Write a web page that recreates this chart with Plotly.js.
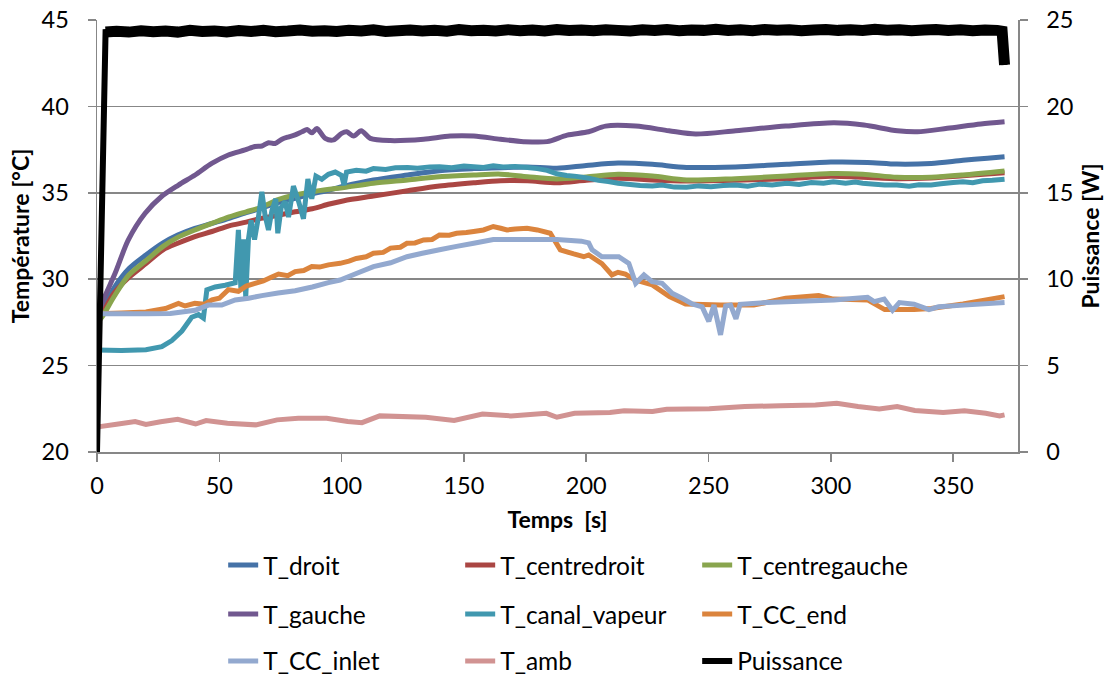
<!DOCTYPE html>
<html>
<head>
<meta charset="utf-8">
<script src="https://cdn.plot.ly/plotly-3.0.1.min.js"></script>
<style>html,body{margin:0;padding:0;background:#fff;}#chart{width:1112px;height:680px;}</style>
</head>
<body>
<div id="chart"></div>
<script>
// ---- data (time in s, temperatures in °C, power in W) ----
const droit_t = [0, 2, 7, 13, 20, 27, 33, 40, 47, 54, 61, 67, 74, 81, 88, 95, 101, 113, 127, 140, 154, 168, 176, 188, 200, 213, 227, 241, 261, 282, 300, 315, 327, 341, 354, 364, 371];
const droit_v = [27.7, 28.2, 29.5, 30.6, 31.4, 32.1, 32.55, 32.94, 33.23, 33.52, 33.85, 34.1, 34.43, 34.68, 34.93, 35.16, 35.38, 35.74, 36.03, 36.28, 36.4, 36.47, 36.5, 36.42, 36.58, 36.72, 36.65, 36.47, 36.5, 36.65, 36.78, 36.76, 36.66, 36.7, 36.88, 37.0, 37.08];

const cdroit_t = [0, 2, 7, 13, 20, 27, 33, 40, 47, 54, 61, 67, 74, 81, 88, 95, 101, 113, 127, 140, 154, 165, 176, 188, 200, 213, 227, 241, 261, 282, 300, 327, 341, 354, 371];
const cdroit_v = [27.6, 28.0, 29.2, 30.1, 30.9, 31.7, 32.08, 32.47, 32.76, 33.09, 33.3, 33.52, 33.7, 33.9, 34.08, 34.35, 34.54, 34.81, 35.12, 35.39, 35.58, 35.7, 35.7, 35.58, 35.72, 35.84, 35.74, 35.68, 35.72, 35.82, 35.96, 35.82, 35.86, 35.98, 36.16];

const cgauche_t = [0, 2, 7, 13, 20, 27, 33, 40, 47, 54, 61, 67, 74, 81, 88, 95, 101, 113, 127, 140, 154, 165, 176, 188, 200, 213, 227, 241, 261, 282, 300, 313, 327, 341, 354, 371];
const cgauche_v = [27.5, 27.8, 29.0, 30.24, 31.07, 31.9, 32.42, 32.85, 33.23, 33.6, 33.9, 34.15, 34.6, 34.87, 35.06, 35.2, 35.3, 35.55, 35.74, 35.93, 36.03, 36.08, 35.93, 35.8, 35.92, 36.07, 35.97, 35.74, 35.82, 35.97, 36.12, 36.08, 35.9, 35.9, 36.03, 36.26];

const gauche_t = [0, 2, 7.4, 12.8, 19.6, 26.5, 33.3, 40.1, 46.9, 53.7, 60.5, 64.6, 67.4, 70.1, 72.8, 75.6, 78.4, 81, 83.8, 85.9, 87.8, 89.9, 93.3, 96.7, 100, 102.1, 104.9, 108, 111.7, 119.9, 133.5, 144.4, 154, 164.9, 174.4, 184, 192.2, 201, 207.9, 220.2, 233.8, 244.7, 261.1, 281.5, 301.3, 313.5, 327.2, 335.4, 347.6, 361.3, 371];
const gauche_v = [27.7, 28.6, 30.34, 32.27, 33.8, 34.8, 35.45, 36.03, 36.7, 37.19, 37.48, 37.68, 37.71, 37.9, 37.85, 38.1, 38.24, 38.35, 38.53, 38.66, 38.47, 38.72, 38.15, 38.06, 38.44, 38.53, 38.28, 38.59, 38.15, 38.02, 38.1, 38.28, 38.28, 38.1, 37.96, 37.96, 38.34, 38.53, 38.86, 38.86, 38.59, 38.4, 38.59, 38.86, 39.05, 38.92, 38.59, 38.53, 38.73, 38.98, 39.11];

const canal_t = [0, 10, 20, 26.5, 30.6, 34.7, 38.7, 41.5, 43.5, 44.9, 48.3, 52.4, 56.5, 57.8, 58.8, 59.9, 60.8, 61.9, 63, 64.4, 66, 67.4, 68.7, 70.1, 71.5, 73.1, 73.9, 75.3, 76.9, 78.3, 80.3, 82.4, 84.4, 86.2, 87.8, 89.5, 91.9, 94.6, 97.4, 100, 101, 102, 106, 110, 113, 118, 122, 127, 131, 136, 140, 145, 150, 154, 158, 162, 166, 171, 176, 180, 184, 188, 192, 196, 201, 205, 209, 213, 217, 222, 227, 231, 236, 241, 246, 251, 256, 261, 266, 271, 276, 282, 287, 292, 297, 301, 306, 310, 313, 318, 322, 327, 332, 336, 341, 345, 350, 354, 358, 362, 366, 371];
const canal_v = [25.9, 25.88, 25.92, 26.1, 26.45, 27.0, 27.8, 27.95, 27.75, 29.38, 29.55, 29.65, 29.8, 32.85, 29.5, 32.3, 28.97, 32.3, 33.4, 32.3, 33.6, 35.06, 33.7, 32.85, 33.97, 34.65, 32.66, 34.16, 34.5, 33.6, 35.39, 34.5, 33.5, 35.8, 34.65, 35.97, 35.78, 36.07, 36.2, 36.0, 35.45, 36.2, 36.3, 36.25, 36.4, 36.35, 36.45, 36.47, 36.42, 36.5, 36.51, 36.45, 36.55, 36.51, 36.47, 36.57, 36.5, 36.52, 36.47, 36.4, 36.3, 36.1, 36.0, 35.95, 35.84, 35.72, 35.65, 35.55, 35.5, 35.42, 35.39, 35.45, 35.33, 35.32, 35.4, 35.35, 35.42, 35.45, 35.38, 35.5, 35.45, 35.55, 35.48, 35.6, 35.55, 35.64, 35.56, 35.62, 35.55, 35.5, 35.45, 35.45, 35.38, 35.46, 35.45, 35.52, 35.6, 35.64, 35.58, 35.7, 35.72, 35.78];

const ccend_t = [0, 10, 20, 24, 28, 33.3, 36, 40, 44, 47, 50, 53.7, 57.8, 61, 64.6, 68, 71, 74.2, 78, 81, 84.5, 87.8, 91, 94.6, 99.4, 103, 106, 110, 113, 117, 120, 124, 126.7, 130, 133.5, 137, 140, 144, 147, 151, 154, 158, 162, 165, 167.6, 171, 175.8, 180, 185.3, 189.4, 194.9, 199, 201, 206.4, 210.5, 213, 216, 220, 227, 234, 240.6, 255, 268.5, 281.5, 295, 301, 315, 322, 334, 341, 354, 371];
const ccend_v = [28.0, 28.05, 28.1, 28.2, 28.3, 28.6, 28.45, 28.6, 28.55, 28.8, 28.9, 29.4, 29.3, 29.6, 29.76, 29.9, 30.1, 30.3, 30.2, 30.44, 30.5, 30.73, 30.7, 30.83, 30.92, 31.05, 31.2, 31.3, 31.5, 31.55, 31.8, 31.85, 32.08, 32.1, 32.27, 32.3, 32.56, 32.55, 32.66, 32.7, 32.76, 32.85, 33.05, 32.95, 32.85, 32.9, 32.95, 32.85, 32.66, 31.7, 31.46, 31.3, 31.4, 30.9, 30.25, 30.4, 30.3, 29.95, 29.67, 29.0, 28.57, 28.5, 28.5, 28.9, 29.05, 28.85, 28.8, 28.24, 28.24, 28.3, 28.57, 28.99];

const ccinlet_t = [0, 20, 30, 40.1, 45.5, 51, 56.5, 62, 67.4, 74, 81, 88, 94.6, 99.4, 106, 113, 120, 126.7, 133, 140, 147, 154, 162, 176, 188, 198, 201, 202.4, 206.4, 213.3, 217.4, 220.2, 223.6, 226.9, 231, 235.1, 239.2, 243.3, 247.4, 250.1, 252.2, 254.9, 257, 259, 261.2, 262.9, 273.8, 287.4, 301.3, 315, 317.7, 321.8, 325.2, 328, 334, 340.1, 344, 354.4, 371];
const ccinlet_v = [28.0, 28.0, 28.02, 28.2, 28.5, 28.5, 28.8, 28.9, 29.05, 29.2, 29.33, 29.55, 29.8, 29.95, 30.33, 30.73, 30.95, 31.3, 31.5, 31.7, 31.9, 32.08, 32.3, 32.3, 32.3, 32.2, 32.1, 31.7, 31.3, 31.3, 30.92, 29.76, 30.25, 29.86, 29.76, 29.18, 28.9, 28.57, 28.4, 27.56, 28.5, 26.78, 28.45, 28.5, 27.7, 28.55, 28.65, 28.72, 28.8, 28.95, 28.7, 28.85, 28.2, 28.65, 28.55, 28.24, 28.4, 28.5, 28.65];

const amb_t = [0, 1.2, 8, 15.6, 20, 26, 33, 40.3, 44.6, 53.3, 64.9, 73.6, 82.3, 93.9, 102.5, 108.3, 115.6, 134.4, 146, 157.6, 169.2, 183.7, 188, 195.2, 209.7, 215.5, 227.1, 232.9, 250.3, 264.8, 279.3, 293.7, 302.4, 311.1, 319.8, 327.1, 334.3, 345.9, 354.6, 363.3, 369, 371];
const amb_v = [21.4, 21.47, 21.6, 21.76, 21.6, 21.75, 21.89, 21.62, 21.82, 21.66, 21.57, 21.86, 21.95, 21.95, 21.76, 21.7, 22.09, 22.01, 21.82, 22.2, 22.09, 22.24, 22.01, 22.24, 22.28, 22.38, 22.34, 22.47, 22.51, 22.63, 22.68, 22.72, 22.82, 22.63, 22.49, 22.63, 22.4, 22.28, 22.38, 22.24, 22.09, 22.15];

const puis_t = [0, 3.5, 8, 13, 18, 23, 28, 33, 38, 43, 48, 53, 58, 63, 68, 73, 78, 83, 88, 93, 98, 103, 108, 113, 118, 123, 128, 133, 138, 143, 148, 153, 158, 163, 168, 173, 178, 183, 188, 193, 198, 203, 208, 213, 218, 223, 228, 233, 238, 243, 248, 253, 258, 263, 268, 273, 278, 283, 288, 293, 298, 303, 308, 313, 318, 323, 328, 333, 338, 343, 348, 353, 358, 363, 368, 370, 371];
const puis_v = [0, 24.3, 24.35, 24.3, 24.38, 24.32, 24.36, 24.3, 24.4, 24.33, 24.37, 24.31, 24.39, 24.34, 24.4, 24.32, 24.36, 24.42, 24.35, 24.38, 24.33, 24.4, 24.36, 24.44, 24.34, 24.38, 24.42, 24.36, 24.4, 24.35, 24.45, 24.38, 24.41, 24.36, 24.44, 24.38, 24.42, 24.37, 24.45, 24.39, 24.42, 24.38, 24.44, 24.4, 24.36, 24.43, 24.39, 24.45, 24.38, 24.42, 24.4, 24.46, 24.39, 24.43, 24.38, 24.45, 24.41, 24.44, 24.38, 24.42, 24.45, 24.4, 24.43, 24.39, 24.46, 24.41, 24.44, 24.38, 24.42, 24.45, 24.4, 24.44, 24.38, 24.42, 24.4, 24.35, 22.4];

const seriesNames = ['T_droit', 'T_centredroit', 'T_centregauche', 'T_gauche', 'T_canal_vapeur', 'T_CC_end', 'T_CC_inlet', 'T_amb', 'Puissance'];
const xTicks = [0, 50, 100, 150, 200, 250, 300, 350];
const yTicks = [20, 25, 30, 35, 40, 45];
const y2Ticks = [0, 5, 10, 15, 20, 25];

// ---- styles ----
const colors = ['#4572A7', '#AA4643', '#89A54E', '#71588F', '#4198AF', '#DB843D', '#93A9CF', '#D19392', '#000000'];
const smooth = [true, true, true, true, false, false, false, false, false];
const FONT = 'Lato, "Liberation Sans", sans-serif';
const GRID = '#878787';
const TICKFONT = {family: FONT, size: 23.5, color: '#000'};
const TITLEFONT = {family: FONT, size: 23, color: '#000'};

const xs = [droit_t, cdroit_t, cgauche_t, gauche_t, canal_t, ccend_t, ccinlet_t, amb_t, puis_t];
const ys = [droit_v, cdroit_v, cgauche_v, gauche_v, canal_v, ccend_v, ccinlet_v, amb_v, puis_v];
const legendOf = ['legend', 'legend', 'legend', 'legend2', 'legend2', 'legend2', 'legend3', 'legend3', 'legend3'];

const traces = seriesNames.map((n, i) => ({
  type: 'scatter', mode: 'lines', name: n,
  x: xs[i], y: ys[i],
  yaxis: i === 8 ? 'y2' : 'y',
  legend: legendOf[i],
  line: {color: colors[i], width: i === 8 ? 6 : 5, shape: smooth[i] ? 'spline' : 'linear', smoothing: 0.8, simplify: false},
  hoverinfo: 'skip'
}));
// thicker noisy band of the power plateau (same data, no legend entry)
traces.push({
  type: 'scatter', mode: 'lines', name: 'Puissance', showlegend: false,
  x: puis_t.slice(1), y: puis_v.slice(1), yaxis: 'y2', legend: 'legend3',
  line: {color: '#000000', width: 11, simplify: false}, hoverinfo: 'skip'
});

const legendBase = {
  orientation: 'h', xanchor: 'left', yanchor: 'middle', x: 0.137, xref: 'paper', yref: 'container',
  entrywidth: 192, entrywidthmode: 'pixels',
  font: {family: FONT, size: 24.5, color: '#000'},
  bgcolor: 'rgba(0,0,0,0)', borderwidth: 0, traceorder: 'normal'
};

const layout = {
  width: 1112, height: 680,
  margin: {l: 97, r: 94, t: 20, b: 228, pad: 0},
  paper_bgcolor: '#fff', plot_bgcolor: '#fff',
  font: {family: FONT, color: '#000'},
  xaxis: {
    range: [0, 376.5], tickvals: xTicks, ticks: 'outside', ticklen: 8, tickwidth: 1.5, tickcolor: GRID,
    ticklabelstandoff: 4,
    showline: true, linecolor: GRID, linewidth: 1.5, showgrid: false, zeroline: false,
    tickfont: TICKFONT,
    title: {text: '<b>Temps&nbsp; [s]</b>', font: TITLEFONT, standoff: 14}
  },
  yaxis: {
    range: [20, 45], tickvals: yTicks, ticks: 'outside', ticklen: 8, tickwidth: 1.5, tickcolor: GRID,
    ticklabelstandoff: 14,
    showline: true, linecolor: GRID, linewidth: 1.5, showgrid: true, gridcolor: GRID, gridwidth: 1.5, zeroline: false,
    tickfont: TICKFONT,
    title: {text: '<b>Température [°C]</b>', font: TITLEFONT, standoff: 5}
  },
  yaxis2: {
    overlaying: 'y', side: 'right', range: [0, 25], tickvals: y2Ticks, ticks: 'outside', ticklen: 8, tickwidth: 1.5, tickcolor: GRID,
    ticklabelstandoff: 14,
    showline: true, linecolor: GRID, linewidth: 1.5, showgrid: false, zeroline: false,
    tickfont: TICKFONT,
    title: {text: '<b>Puissance [W]</b>', font: TITLEFONT, standoff: 10}
  },
  legend: Object.assign({}, legendBase, {y: 0.169}),
  legend2: Object.assign({}, legendBase, {y: 0.097}),
  legend3: Object.assign({}, legendBase, {y: 0.028}),
  showlegend: true
};

Plotly.newPlot('chart', traces, layout, {displayModeBar: false, staticPlot: true});
</script>
</body>
</html>
